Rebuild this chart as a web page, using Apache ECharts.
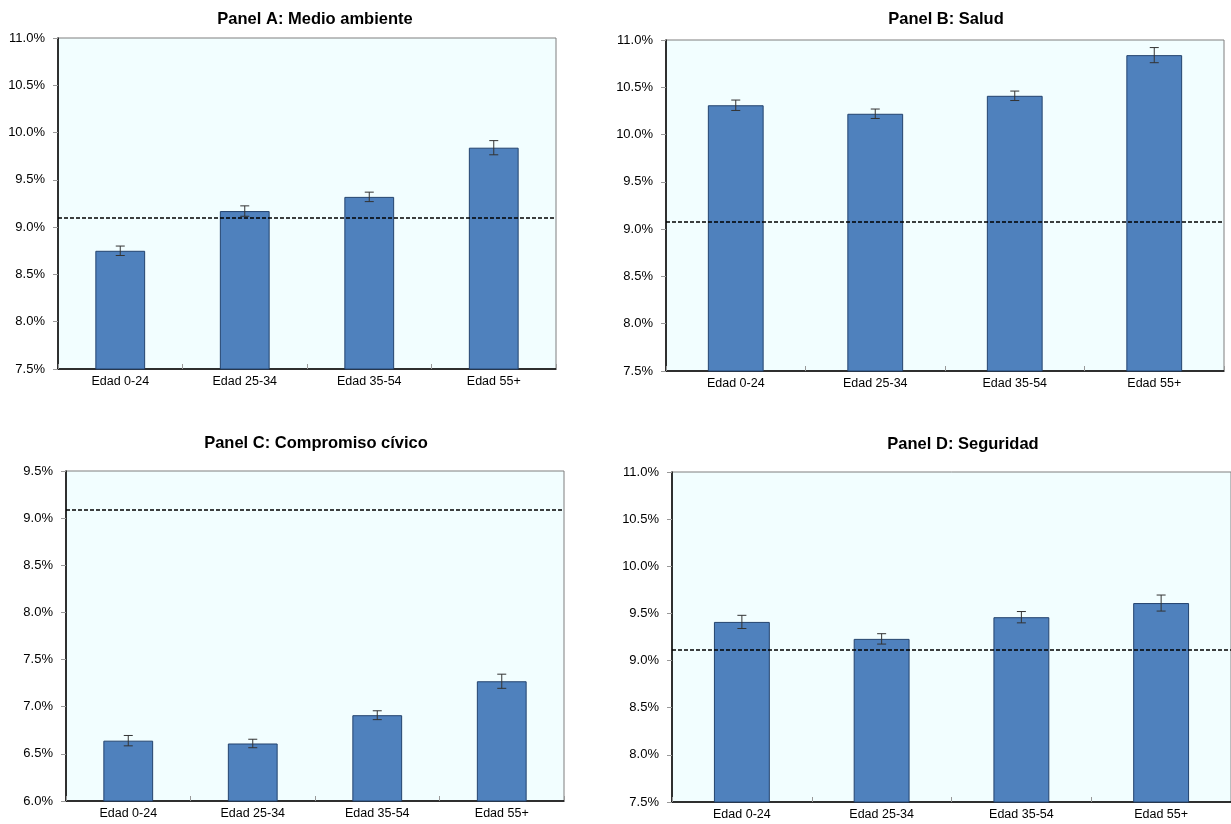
<!DOCTYPE html>
<html>
<head>
<meta charset="utf-8">
<title>Bienestar por grupo de edad</title>
<script src="https://cdn.jsdelivr.net/npm/echarts@6/dist/echarts.min.js"></script>
<style>
  html, body { margin: 0; padding: 0; background: #ffffff; }
  #chart { width: 1231px; height: 824px; }
</style>
</head>
<body>
<div id="chart"></div>
<script>
// Age groups shared by every panel
const categories = ['Edad 0-24', 'Edad 25-34', 'Edad 35-54', 'Edad 55+'];

// Panel titles
const titles = [
  'Panel A: Medio ambiente',
  'Panel B: Salud',
  'Panel C: Compromiso cívico',
  'Panel D: Seguridad'
];

// Shares (%) per age group, with half-width of the error bars
const valuesA = [8.75, 9.17, 9.32, 9.84];
const errorsA = [0.05, 0.055, 0.05, 0.075];
const averageA = 9.10;

const valuesB = [10.31, 10.22, 10.41, 10.84];
const errorsB = [0.055, 0.05, 0.05, 0.08];
const averageB = 9.08;

const valuesC = [6.64, 6.61, 6.91, 7.27];
const errorsC = [0.055, 0.045, 0.047, 0.075];
const averageC = 9.09;

const valuesD = [9.41, 9.23, 9.46, 9.61];
const errorsD = [0.07, 0.055, 0.06, 0.085];
const averageD = 9.12;

// Value-axis ranges per panel
const axisMin = [7.5, 7.5, 6.0, 7.5];
const axisMax = [11.0, 11.0, 9.5, 11.0];
const axisStep = 0.5;

// Use a narrow sans if the system has one, otherwise the regular one
function hasFont(name) {
  const c = document.createElement('canvas').getContext('2d');
  const probe = 'Edad 0-24 Panel Salud 10.5%';
  c.font = '20px monospace';
  const w1 = c.measureText(probe).width;
  c.font = '20px "' + name + '", monospace';
  const w2 = c.measureText(probe).width;
  return Math.abs(w1 - w2) > 0.5;
}
const narrow = hasFont('Liberation Sans Narrow');
const fontFamily = narrow ? '"Liberation Sans Narrow", "Liberation Sans", Arial, sans-serif'
                          : '"Liberation Sans", Arial, sans-serif';
const xLabelSize = narrow ? 15 : 12.5;
const yLabelSize = narrow ? 15.5 : 13;
const titleSize = narrow ? 20 : 16.5;

const panels = [
  { values: valuesA, errors: errorsA, avg: averageA,
    grid: { left: 58, top: 38, width: 498, height: 331 }, titleX: 310, titleY: 6 },
  { values: valuesB, errors: errorsB, avg: averageB,
    grid: { left: 666, top: 40, width: 558, height: 331 }, titleX: 941, titleY: 6 },
  { values: valuesC, errors: errorsC, avg: averageC,
    grid: { left: 66, top: 471, width: 498, height: 330 }, titleX: 311, titleY: 430 },
  { values: valuesD, errors: errorsD, avg: averageD,
    grid: { left: 672, top: 472, width: 561, height: 330 }, titleX: 958, titleY: 431 }
];

const barColor = '#4F81BD';
const plotBg = '#F2FEFF';

const option = {
  backgroundColor: '#ffffff',
  animation: false,
  title: [],
  grid: [],
  xAxis: [],
  yAxis: [],
  series: []
};

panels.forEach((p, i) => {
  option.title.push({
    text: titles[i],
    left: p.titleX,
    top: p.titleY,
    textAlign: 'center',
    textStyle: { fontFamily, fontSize: titleSize, fontWeight: 'bold', color: '#000' }
  });

  option.grid.push(Object.assign({
    show: true,
    backgroundColor: plotBg,
    borderColor: '#7f7f7f',
    borderWidth: 1,
    containLabel: false
  }, p.grid));

  option.xAxis.push({
    type: 'category',
    gridIndex: i,
    data: categories,
    boundaryGap: true,
    axisLine: { show: true, lineStyle: { color: '#000', width: 1.5 } },
    axisTick: { show: true, inside: true, length: 5, lineStyle: { color: '#999', width: 1 } },
    axisLabel: { fontFamily, fontSize: xLabelSize, color: '#000', margin: 6 },
    splitLine: { show: false }
  });

  option.yAxis.push({
    type: 'value',
    gridIndex: i,
    min: axisMin[i],
    max: axisMax[i],
    interval: axisStep,
    axisLine: { show: true, lineStyle: { color: '#000', width: 1.5 } },
    axisTick: { show: true, inside: false, length: 5, lineStyle: { color: '#999', width: 1 } },
    axisLabel: {
      fontFamily, fontSize: yLabelSize, color: '#000', margin: 13,
      formatter: v => v.toFixed(1) + '%'
    },
    splitLine: { show: false }
  });

  option.series.push({
    type: 'bar',
    xAxisIndex: i,
    yAxisIndex: i,
    data: p.values,
    barWidth: '40%',
    itemStyle: { color: barColor, borderColor: '#23436E', borderWidth: 1 },
    markLine: {
      silent: true,
      symbol: 'none',
      label: { show: false },
      lineStyle: { color: '#000', type: [4, 2], width: 1.5 },
      data: [{ yAxis: p.avg }]
    },
    z: 2
  });

  // Error bars: vertical whisker with short horizontal caps
  option.series.push({
    type: 'custom',
    xAxisIndex: i,
    yAxisIndex: i,
    data: p.values.map((v, k) => [k, v - p.errors[k], v + p.errors[k]]),
    renderItem: (params, api) => {
      const x = api.value(0);
      const lo = api.coord([x, api.value(1)]);
      const hi = api.coord([x, api.value(2)]);
      const cap = 4.5;
      const style = { stroke: '#333', lineWidth: 1 };
      return {
        type: 'group',
        children: [
          { type: 'line', shape: { x1: hi[0], y1: hi[1], x2: lo[0], y2: lo[1] }, style },
          { type: 'line', shape: { x1: hi[0] - cap, y1: hi[1], x2: hi[0] + cap, y2: hi[1] }, style },
          { type: 'line', shape: { x1: lo[0] - cap, y1: lo[1], x2: lo[0] + cap, y2: lo[1] }, style }
        ]
      };
    },
    z: 5
  });
});

const chart = echarts.init(document.getElementById('chart'), null, { renderer: 'canvas' });
chart.setOption(option);
</script>
</body>
</html>
